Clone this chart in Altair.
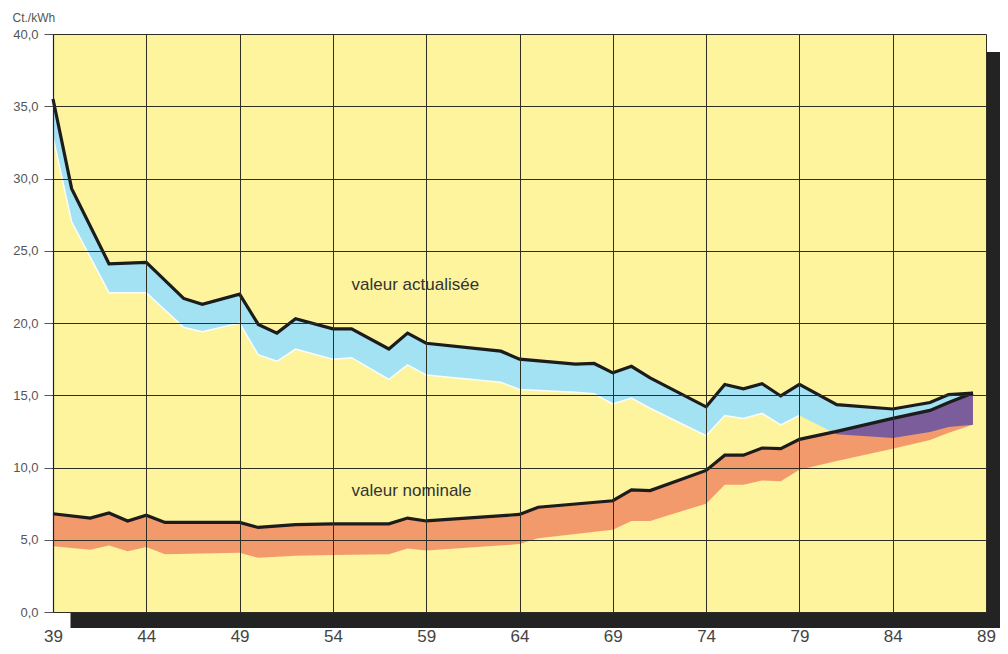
import altair as alt
import pandas as pd

# --- data ---
x_ticks = [39, 44, 49, 54, 59, 64, 69, 74, 79, 84, 89]
y_ticks = [0, 5, 10, 15, 20, 25, 30, 35, 40]

# valeur actualisée (band: upper line and lower edge)
act_years = [39, 40, 42, 44, 46, 47, 49, 50, 51, 52, 54, 55, 57, 58, 59, 63, 64, 67, 68, 69,
             70, 71, 74, 75, 76, 77, 78, 79, 81, 84, 86, 87, 88.3]
act_top = [35.5, 29.3, 24.1, 24.2, 21.7, 21.3, 22.0, 19.9, 19.3, 20.3, 19.6, 19.6, 18.2, 19.3, 18.6,
           18.05, 17.5, 17.15, 17.2, 16.55, 17.0, 16.2, 14.2, 15.75, 15.45, 15.8, 14.95, 15.75,
           14.35, 14.05, 14.5, 15.05, 15.15]
act_bot = [32.9, 27.0, 22.1, 22.1, 19.7, 19.4, 20.0, 17.8, 17.35, 18.2, 17.5, 17.6, 16.1, 17.1, 16.4,
           15.9, 15.4, 15.2, 15.1, 14.4, 14.8, 14.1, 12.2, 13.6, 13.4, 13.75, 12.95, 13.6,
           12.3, 12.05, 12.45, 12.8, 12.95]

# valeur nominale
nom_years = [39, 41, 42, 43, 44, 45, 49, 50, 52, 54, 57, 58, 59, 64, 65, 69, 70, 71, 74, 75,
             76, 77, 78, 79, 81, 84, 86, 87, 88.3]
nom_top = [6.8, 6.5, 6.85, 6.3, 6.7, 6.2, 6.2, 5.85, 6.05, 6.1, 6.1, 6.5, 6.3, 6.75, 7.25, 7.7,
           8.45, 8.4, 9.8, 10.85, 10.85, 11.35, 11.3, 11.95, 12.5, 13.4, 13.95, 14.5, 15.15]
nom_bot = [4.55, 4.3, 4.6, 4.2, 4.5, 4.0, 4.1, 3.75, 3.9, 3.95, 4.0, 4.4, 4.25, 4.7, 5.1, 5.7,
           6.3, 6.3, 7.5, 8.8, 8.8, 9.1, 9.05, 9.85, 10.45, 11.3, 11.9, 12.4, 12.95]

# overlap of the two bands (purple)
ov_years = [80.78, 81, 84, 86, 87, 88.3]
ov_top = [12.44, 12.5, 13.4, 13.95, 14.5, 15.15]
ov_bot = [12.44, 12.3, 12.05, 12.45, 12.8, 12.95]

label_text = ["valeur actualisée", "valeur nominale"]
label_x = [55.0, 55.0]
label_y = [22.6, 8.4]

# --- styling ---
YELLOW = "#fdf49d"
BLUE = "#a3e2f2"
ORANGE = "#f39a6d"
PURPLE = "#7c5d9c"
LINE = "#1c1c1c"
SHADOW = "#232323"
GRID = "#2e2e22"
FONT = "Liberation Sans"

W, H = 933, 578

act = pd.DataFrame({"year": act_years, "top": act_top, "bot": act_bot})
nom = pd.DataFrame({"year": nom_years, "top": nom_top, "bot": nom_bot})
ov = pd.DataFrame({"year": ov_years, "top": ov_top, "bot": ov_bot})
labels = pd.DataFrame({"year": label_x, "top": label_y, "text": label_text})
one = pd.DataFrame({"k": [0]})

x_axis = alt.Axis(values=x_ticks, title=None, grid=True, gridColor=GRID, gridWidth=1,
                  gridOpacity=1, domain=False, ticks=False, labelFontSize=17,
                  labelColor="#444444", labelPadding=16.5, labelFont=FONT,
                  labelFlush=False, labelOverlap=False, zindex=1)
y_axis = alt.Axis(values=y_ticks, title="Ct./kWh", titleAngle=0, titleX=-41, titleY=-17,
                  titleAlign="left", titleBaseline="middle", titleFontSize=12,
                  titleFontWeight="normal", titleColor="#555555", titleFont=FONT,
                  grid=True, gridColor=GRID, gridWidth=1, gridOpacity=1,
                  domain=True, domainColor="#222222", domainWidth=1.2,
                  ticks=True, tickSize=9, tickColor="#555555", labelFontSize=13,
                  labelColor="#555555", labelPadding=6, labelFont=FONT,
                  labelExpr="replace(format(datum.value, '.1f'), '.', ',')", zindex=1)

xs = alt.Scale(domain=[39, 89], nice=False, zero=False)
ys = alt.Scale(domain=[0, 40], nice=False, zero=False)


def X():
    return alt.X("year:Q", scale=xs, axis=x_axis)


def Y():
    return alt.Y("top:Q", scale=ys, axis=y_axis)


shadow_bottom = alt.Chart(one).mark_rect(color=SHADOW).encode(
    x=alt.value(17.5), x2=alt.value(947), y=alt.value(H), y2=alt.value(H + 16))
shadow_right = alt.Chart(one).mark_rect(color=SHADOW).encode(
    x=alt.value(W), x2=alt.value(947), y=alt.value(18), y2=alt.value(H + 16))

blue = alt.Chart(act).mark_area(color=BLUE, opacity=1).encode(x=X(), y=Y(), y2="bot:Q")
white_edge = alt.Chart(act[act["year"] <= 79]).mark_line(
    color="#ffffff", strokeWidth=1.5, opacity=0.9).encode(
    x=X(), y=alt.Y("bot:Q", scale=ys, axis=y_axis))
orange = alt.Chart(nom).mark_area(color=ORANGE, opacity=1).encode(x=X(), y=Y(), y2="bot:Q")
purple = alt.Chart(ov).mark_area(color=PURPLE, opacity=1).encode(x=X(), y=Y(), y2="bot:Q")
act_line = alt.Chart(act).mark_line(color=LINE, strokeWidth=3.2, strokeJoin="miter").encode(x=X(), y=Y())
nom_line = alt.Chart(nom).mark_line(color=LINE, strokeWidth=3.2, strokeJoin="miter").encode(x=X(), y=Y())
texts = alt.Chart(labels).mark_text(align="left", baseline="middle", fontSize=17,
                                    font=FONT, color="#333333").encode(
    x=X(), y=Y(), text="text:N")

chart = alt.layer(shadow_bottom, shadow_right, blue, white_edge, orange, purple,
                  act_line, nom_line, texts).properties(
    width=W, height=H, autosize="none",
    padding={"left": 45, "top": 26, "right": 14, "bottom": 34},
    background="#ffffff",
).configure_view(fill=YELLOW, strokeWidth=0)

chart.save("out.html", embed_options={"renderer": "svg", "actions": False})
